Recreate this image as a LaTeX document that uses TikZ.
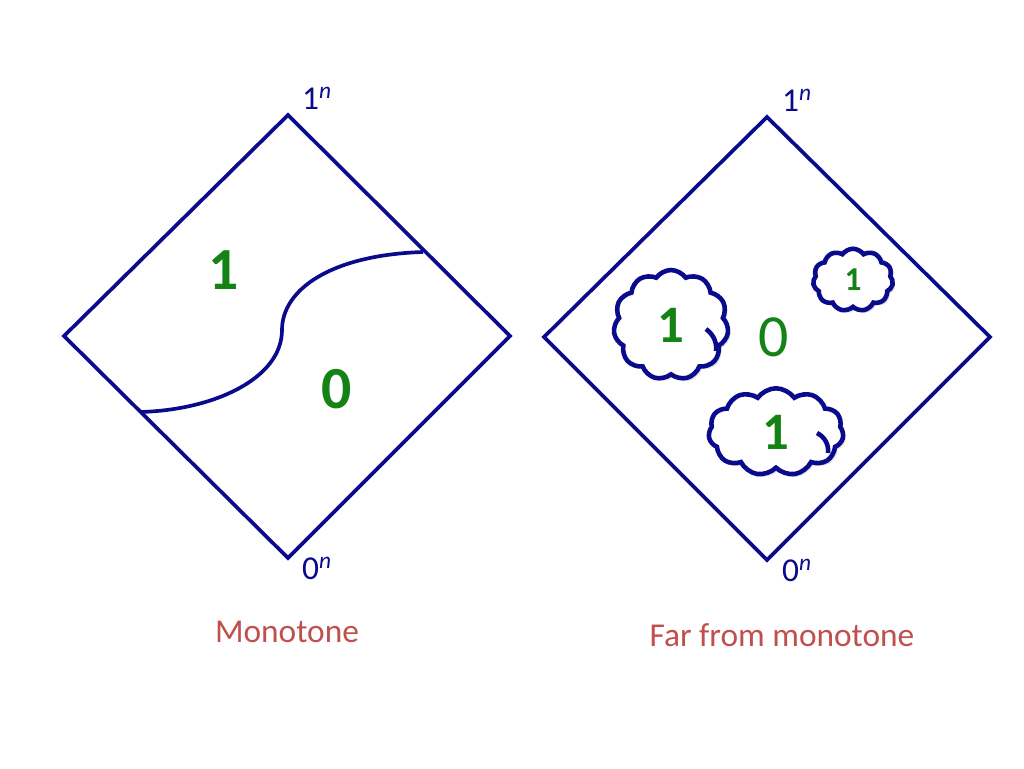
\documentclass[tikz,border=0pt]{standalone}
\usepackage{fontspec}
\setmainfont{Carlito}
\usetikzlibrary{shapes.symbols,shadows}
\definecolor{navy}{RGB}{10,10,140}
\definecolor{dgreen}{RGB}{20,130,20}
\definecolor{brick}{RGB}{192,80,77}
\tikzset{
  edge/.style={draw=navy, line width=2.1pt},
  corner/.style={text=navy, font=\fontsize{19}{21}\selectfont, inner sep=0pt},
  bit/.style={text=dgreen, font=\fontsize{34}{36}\selectfont\bfseries, inner sep=0pt},
  caption/.style={text=brick, font=\fontsize{19}{22}\selectfont, inner sep=0pt},
  puff/.style={cloud, cloud puffs=11, cloud puff arc=110, cloud ignores aspect,
    draw=navy, fill=white, line width=2.6pt, inner sep=0pt, text=dgreen,
    drop shadow={shadow xshift=1.5pt, shadow yshift=-1.5pt, opacity=0.25}},
}
\begin{document}
\begin{tikzpicture}[x=0.02cm,y=-0.02cm]
\useasboundingbox (0,0) rectangle (1024,768);
% linker Wuerfel
\coordinate (T1) at (288,115);
\coordinate (L1) at (64,336);
\coordinate (R1) at (510,336);
\coordinate (B1) at (288,558);
\draw[edge, line join=miter] (T1)--(R1)--(B1)--(L1)--cycle;
\coordinate (S1) at (140,412);
\coordinate (M1) at (282,330);
\coordinate (E1) at (423,252);
\draw[edge] (S1) .. controls (215,410) and (282,378) .. (M1)
  .. controls (282,290) and (330,255) .. (E1);
\node[corner] (top1) at (317,98) {1\textsuperscript{\textit{n}}};
\node[corner] (bot1) at (317,568) {0\textsuperscript{\textit{n}}};
\node[bit] (one1) at (224,270) {1};
\node[bit] (zero1) at (337,389) {0};
\node[caption] (cap1) at (287,632) {Monotone};
% rechter Wuerfel
\coordinate (T2) at (767,117);
\coordinate (L2) at (544,337);
\coordinate (R2) at (990,337);
\coordinate (B2) at (767,560);
\draw[edge, line join=miter] (T2)--(R2)--(B2)--(L2)--cycle;
\node[corner] (top2) at (797,100) {1\textsuperscript{\textit{n}}};
\node[corner] (bot2) at (797,570) {0\textsuperscript{\textit{n}}};
\node[bit, font=\fontsize{34}{36}\selectfont] (zero2) at (774,337) {0};
%Wolken
\node[puff, minimum width=2.3cm, minimum height=2.2cm,
  font=\fontsize{30}{32}\selectfont\bfseries] (c1) at (671,325) {1};
\node[puff, minimum width=1.6cm, minimum height=1.25cm,
  font=\fontsize{19}{21}\selectfont\bfseries] (c2) at (853,280) {1};
\node[puff, minimum width=2.7cm, minimum height=1.75cm,
  font=\fontsize{30}{32}\selectfont\bfseries] (c3) at (776,432) {1};
%kleine Boegen
\draw[navy, line width=2.6pt] (706,329) .. controls (714,335) and (717,343) .. (716,351);
\draw[navy, line width=2.6pt] (817,433) .. controls (825,437) and (829,445) .. (828,453);
\node[caption] (cap2) at (782,635) {Far from monotone};
\end{tikzpicture}
\end{document}
